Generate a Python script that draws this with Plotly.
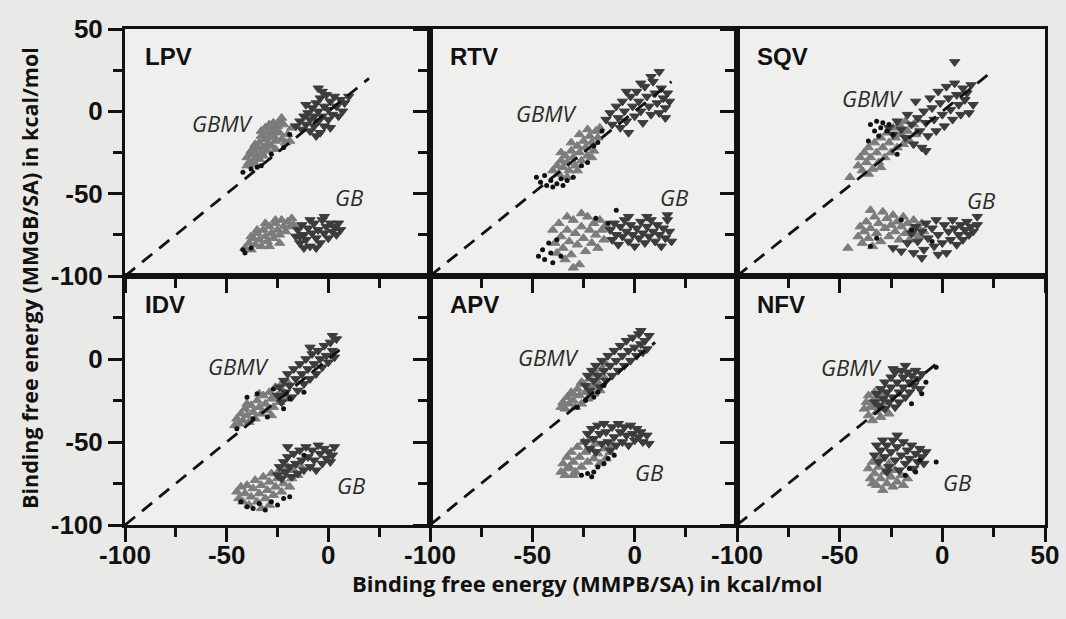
import plotly.graph_objects as go

# ---------------- data (kcal/mol) ----------------
panels = ["LPV", "RTV", "SQV", "IDV", "APV", "NFV"]
diag_end = [20, 18, 25, 8, 10, 0]   # upper end of the dashed y = x line

LPV_GBMV_light = [(-39,-31),(-37,-32),(-36,-29),(-40,-28),(-38,-26),(-35,-27),(-33,-25),(-37,-23),(-35,-22),(-32,-22),(-30,-20),(-34,-19),(-36,-20),(-31,-17),(-29,-16),(-33,-15),(-27,-15),(-30,-13),(-28,-11),(-26,-12),(-31,-10),(-25,-9),(-27,-7),(-24,-6),(-22,-8),(-29,-8),(-23,-4),(-33,-12),(-38,-24),(-30,-24),(-34,-29),(-26,-18),(-28,-21),(-32,-27),(-20,-14),(-18,-10),(-21,-19),(-23,-17),(-19,-18),(-24,-13),(-36,-32),(-40,-33),(-26,-23)]
LPV_GBMV_dark = [(-16,-9),(-14,-6),(-13,-11),(-12,-3),(-11,-8),(-10,-1),(-9,-5),(-9,-12),(-8,2),(-7,-3),(-7,-9),(-6,5),(-5,0),(-5,-6),(-4,-13),(-4,8),(-3,-3),(-2,3),(-2,-9),(-1,10),(0,1),(0,-5),(1,6),(2,-2),(3,9),(4,3),(5,-3),(6,7),(8,5),(10,9),(-5,14),(-3,12),(-11,4),(7,0),(-6,-15),(1,-10)]
LPV_GBMV_black = [(-42,-37),(-38,-35),(-35,-34),(-33,-33),(-22,-22),(-19,-14),(-28,-26)]
LPV_GB_light = [(-41,-83),(-39,-80),(-38,-84),(-37,-77),(-36,-81),(-35,-74),(-34,-78),(-33,-82),(-32,-72),(-31,-76),(-30,-79),(-29,-70),(-28,-74),(-27,-77),(-26,-68),(-25,-72),(-24,-75),(-23,-66),(-22,-70),(-21,-73),(-20,-67),(-19,-70),(-18,-65),(-17,-69),(-35,-72),(-29,-82),(-24,-80),(-31,-68),(-38,-76),(-26,-66)]
LPV_GB_dark = [(-16,-76),(-15,-72),(-14,-80),(-13,-69),(-12,-75),(-11,-78),(-10,-71),(-9,-82),(-8,-74),(-7,-68),(-6,-77),(-5,-72),(-4,-80),(-3,-66),(-2,-74),(-1,-70),(0,-77),(1,-68),(2,-73),(3,-70),(4,-75),(5,-68),(6,-72),(-9,-66),(-12,-83),(-6,-83),(-2,-64),(-14,-76)]
LPV_GB_black = [(-42,-84),(-41,-86),(-38,-83)]

RTV_GBMV_light = [(-40,-36),(-38,-33),(-37,-38),(-36,-30),(-35,-34),(-34,-27),(-33,-31),(-32,-36),(-31,-24),(-30,-28),(-29,-33),(-28,-21),(-27,-25),(-26,-30),(-25,-18),(-24,-22),(-23,-27),(-22,-15),(-21,-19),(-20,-24),(-19,-12),(-18,-16),(-17,-10),(-36,-25),(-31,-19),(-27,-14),(-23,-11),(-33,-40),(-28,-36),(-21,-28)]
RTV_GBMV_dark = [(-14,-5),(-12,-1),(-11,-8),(-9,3),(-8,-4),(-7,-10),(-6,6),(-5,0),(-4,-6),(-3,-13),(-2,9),(-1,3),(0,-3),(1,12),(2,6),(3,0),(4,-7),(5,15),(6,9),(7,3),(8,-2),(9,18),(10,11),(11,5),(12,-1),(13,14),(14,8),(15,2),(16,11),(12,24),(8,21),(3,17),(-4,12),(15,-4),(17,6)]
RTV_GBMV_black = [(-48,-40),(-46,-43),(-44,-39),(-43,-45),(-41,-42),(-40,-46),(-38,-44),(-36,-41),(-35,-45),(-33,-42),(-30,-40),(-26,-33),(-23,-31),(-20,-21),(-18,-19),(-16,-12)]
RTV_GB_light = [(-40,-72),(-39,-80),(-38,-86),(-37,-68),(-36,-76),(-35,-83),(-34,-90),(-33,-72),(-32,-79),(-31,-87),(-30,-66),(-29,-74),(-28,-81),(-27,-93),(-26,-70),(-25,-77),(-24,-85),(-23,-64),(-22,-72),(-21,-80),(-20,-68),(-19,-75),(-18,-83),(-17,-66),(-16,-72),(-15,-78),(-14,-69),(-30,-95),(-26,-62),(-33,-64)]
RTV_GB_dark = [(-12,-72),(-11,-78),(-10,-68),(-9,-75),(-8,-81),(-7,-70),(-6,-76),(-5,-66),(-4,-73),(-3,-79),(-2,-69),(-1,-75),(0,-82),(1,-71),(2,-77),(3,-67),(4,-74),(5,-80),(6,-70),(7,-76),(8,-66),(9,-73),(10,-79),(11,-69),(12,-75),(13,-82),(14,-71),(15,-77),(16,-66),(17,-73),(18,-79),(16,-63),(6,-64),(-3,-64)]
RTV_GB_black = [(-47,-88),(-45,-84),(-44,-90),(-42,-80),(-41,-86),(-40,-92),(-38,-78),(-36,-88),(-9,-60),(-19,-65),(-13,-68)]

SQV_GBMV_light = [(-41,-33),(-40,-28),(-39,-36),(-38,-25),(-37,-31),(-36,-22),(-35,-28),(-34,-35),(-33,-19),(-32,-25),(-31,-31),(-30,-16),(-29,-22),(-28,-28),(-27,-13),(-26,-19),(-25,-25),(-24,-10),(-23,-16),(-22,-22),(-21,-8),(-20,-14),(-19,-20),(-18,-6),(-17,-12),(-16,-18),(-14,-8),(-13,-14),(-12,-5),(-36,-38),(-30,-34),(-45,-40)]
SQV_GBMV_dark = [(-26,-10),(-24,-14),(-22,-6),(-20,-11),(-18,-16),(-17,-2),(-15,-8),(-14,-20),(-13,6),(-12,-4),(-11,-12),(-10,-22),(-9,0),(-8,-7),(-7,-15),(-6,8),(-5,2),(-4,-5),(-3,-12),(-2,12),(-1,5),(0,-2),(1,-9),(2,15),(3,8),(4,1),(5,-5),(6,17),(7,10),(8,4),(9,-2),(10,14),(11,7),(12,11),(14,16),(15,4),(6,30),(13,-1),(-8,-24)]
SQV_GBMV_black = [(-35,-8),(-32,-6),(-29,-7),(-33,-12),(-30,-10),(-27,-12),(-24,-14),(-31,-15),(-36,-18),(-26,-8),(-22,-26)]
SQV_GB_light = [(-41,-76),(-40,-70),(-39,-80),(-38,-73),(-37,-67),(-36,-77),(-35,-71),(-34,-82),(-33,-64),(-32,-74),(-31,-68),(-30,-79),(-29,-61),(-28,-71),(-27,-65),(-26,-76),(-25,-69),(-24,-63),(-23,-73),(-22,-67),(-21,-78),(-20,-70),(-19,-64),(-18,-74),(-17,-68),(-16,-78),(-15,-72),(-14,-66),(-13,-75),(-12,-70),(-11,-76),(-10,-68),(-9,-73),(-46,-83),(-35,-60)]
SQV_GB_dark = [(-17,-80),(-15,-74),(-14,-86),(-13,-70),(-12,-79),(-10,-73),(-9,-84),(-8,-68),(-7,-77),(-5,-71),(-4,-82),(-3,-66),(-2,-75),(0,-80),(1,-69),(2,-86),(3,-73),(4,-78),(5,-66),(6,-71),(7,-81),(8,-75),(9,-69),(10,-78),(11,-72),(12,-67),(13,-75),(14,-70),(15,-73),(17,-69),(-10,-89),(-2,-87),(17,-64),(-20,-85),(-24,-83)]
SQV_GB_black = [(-32,-77),(-35,-82),(-20,-66),(-15,-72),(-5,-79)]

IDV_GBMV_light = [(-46,-40),(-45,-36),(-44,-39),(-43,-33),(-42,-37),(-41,-30),(-40,-34),(-39,-38),(-38,-28),(-37,-32),(-36,-36),(-35,-25),(-34,-29),(-33,-33),(-32,-22),(-31,-27),(-30,-31),(-29,-20),(-28,-24),(-27,-29),(-26,-17),(-25,-22),(-24,-26),(-23,-15),(-22,-20),(-21,-24),(-20,-14),(-34,-21),(-28,-34),(-40,-27)]
IDV_GBMV_dark = [(-25,-22),(-24,-17),(-23,-26),(-22,-13),(-21,-20),(-20,-9),(-19,-16),(-18,-23),(-17,-6),(-16,-12),(-15,-19),(-14,-3),(-13,-9),(-12,-15),(-11,0),(-10,-6),(-9,-12),(-8,3),(-7,-3),(-6,-9),(-5,5),(-4,0),(-3,-5),(-2,8),(-1,2),(0,-2),(1,10),(2,5),(3,1),(-9,7),(4,12),(2,14)]
IDV_GBMV_black = [(-40,-23),(-22,-30),(-19,-24),(-37,-36),(-35,-21),(-45,-42),(-30,-35),(-27,-18),(-12,-20)]
IDV_GB_light = [(-45,-80),(-44,-84),(-43,-77),(-42,-86),(-41,-81),(-40,-76),(-39,-88),(-38,-83),(-37,-78),(-36,-73),(-35,-86),(-34,-81),(-33,-76),(-32,-71),(-31,-84),(-30,-79),(-29,-74),(-28,-69),(-27,-82),(-26,-77),(-25,-72),(-24,-67),(-23,-80),(-22,-75),(-21,-70),(-20,-65),(-19,-77),(-18,-72),(-17,-67),(-15,-70),(-14,-64),(-33,-90),(-29,-88)]
IDV_GB_dark = [(-25,-70),(-24,-65),(-23,-72),(-22,-62),(-21,-68),(-20,-59),(-19,-65),(-18,-71),(-17,-57),(-16,-63),(-15,-69),(-14,-55),(-13,-61),(-12,-67),(-11,-53),(-10,-59),(-9,-65),(-8,-55),(-7,-61),(-6,-67),(-5,-52),(-4,-57),(-3,-63),(-2,-54),(-1,-60),(0,-56),(1,-62),(2,-58),(3,-53),(-20,-53)]
IDV_GB_black = [(-43,-86),(-40,-89),(-37,-90),(-34,-87),(-31,-91),(-28,-86),(-25,-88),(-22,-84),(-19,-83),(-12,-58)]

APV_GBMV_light = [(-36,-29),(-35,-26),(-34,-30),(-33,-23),(-32,-27),(-31,-20),(-30,-25),(-29,-29),(-28,-18),(-27,-22),(-26,-27),(-25,-15),(-24,-20),(-23,-24),(-22,-12),(-21,-17),(-20,-21),(-19,-9),(-18,-14),(-17,-19),(-16,-6),(-15,-11),(-14,-3),(-30,-21),(-26,-14)]
APV_GBMV_dark = [(-24,-16),(-23,-10),(-22,-19),(-21,-7),(-20,-13),(-19,-4),(-18,-10),(-17,-17),(-16,-1),(-15,-7),(-14,-13),(-13,2),(-12,-4),(-11,-10),(-10,5),(-9,-1),(-8,-7),(-7,8),(-6,2),(-5,-4),(-4,11),(-3,5),(-2,-1),(-1,13),(0,7),(1,2),(2,15),(3,9),(4,4),(5,11),(6,6),(7,14),(3,17)]
APV_GBMV_black = [(-24,-25),(-20,-23),(-18,-20),(-28,-29),(-15,-16)]
APV_GB_light = [(-36,-68),(-35,-63),(-34,-70),(-33,-59),(-32,-65),(-31,-56),(-30,-62),(-29,-68),(-28,-53),(-27,-59),(-26,-65),(-25,-50),(-24,-56),(-23,-62),(-22,-49),(-21,-54),(-20,-60),(-19,-51),(-18,-57),(-17,-63),(-15,-54),(-14,-60),(-12,-56),(-11,-52),(-33,-66),(-30,-70)]
APV_GB_dark = [(-24,-50),(-23,-45),(-22,-54),(-21,-42),(-20,-48),(-19,-56),(-18,-40),(-17,-45),(-16,-51),(-15,-39),(-14,-44),(-13,-50),(-12,-55),(-11,-41),(-10,-47),(-9,-52),(-8,-39),(-7,-44),(-6,-50),(-5,-41),(-4,-46),(-3,-52),(-2,-40),(-1,-45),(0,-49),(1,-42),(2,-47),(3,-44),(4,-50),(6,-46),(7,-51)]
APV_GB_black = [(-26,-70),(-23,-69),(-20,-68),(-18,-65),(-15,-63),(-13,-60),(-10,-58),(-21,-71)]

NFV_GBMV_light = [(-38,-30),(-37,-26),(-36,-34),(-35,-29),(-34,-37),(-33,-24),(-32,-32),(-31,-28),(-30,-35),(-29,-22),(-28,-30),(-27,-26),(-26,-33),(-33,-20),(-36,-22)]
NFV_GBMV_dark = [(-33,-26),(-32,-21),(-31,-28),(-30,-18),(-29,-24),(-28,-30),(-28,-14),(-27,-20),(-26,-26),(-25,-11),(-25,-17),(-24,-23),(-23,-8),(-23,-29),(-22,-14),(-21,-20),(-21,-26),(-20,-7),(-19,-11),(-19,-17),(-18,-23),(-17,-8),(-16,-14),(-16,-20),(-15,-10),(-14,-16),(-13,-7),(-12,-12),(-11,-18),(-10,-9),(-24,-6),(-18,-4)]
NFV_GBMV_black = [(-3,-5),(-10,-21),(-15,-27),(-8,-14)]
NFV_GB_light = [(-36,-66),(-35,-72),(-34,-62),(-33,-69),(-32,-76),(-31,-65),(-30,-72),(-29,-79),(-28,-68),(-27,-75),(-26,-63),(-25,-71),(-24,-77),(-23,-67),(-22,-74),(-20,-70),(-19,-76),(-17,-72),(-30,-60),(-34,-75)]
NFV_GB_dark = [(-33,-58),(-32,-52),(-31,-62),(-30,-55),(-29,-49),(-28,-59),(-27,-52),(-26,-65),(-25,-56),(-24,-49),(-23,-61),(-22,-53),(-21,-67),(-20,-58),(-19,-50),(-18,-63),(-17,-55),(-16,-60),(-15,-52),(-14,-66),(-13,-57),(-12,-62),(-11,-54),(-10,-59),(-9,-63),(-8,-56),(-27,-68),(-22,-46)]
NFV_GB_black = [(-11,-61),(-3,-62),(-16,-66),(-13,-68),(-18,-70)]

# text label positions (data coords) per panel: GBMV label, GB label
GBMV_label_pos = [(-52, -7), (-43, -1), (-34, 8), (-44, -4), (-42, 1), (-44, -5)]
GB_label_pos = [(10, -52), (19, -52), (19, -54), (11, -76), (7, -68), (7, -74)]

data = {
    "LPV": [LPV_GBMV_light, LPV_GBMV_dark, LPV_GBMV_black, LPV_GB_light, LPV_GB_dark, LPV_GB_black],
    "RTV": [RTV_GBMV_light, RTV_GBMV_dark, RTV_GBMV_black, RTV_GB_light, RTV_GB_dark, RTV_GB_black],
    "SQV": [SQV_GBMV_light, SQV_GBMV_dark, SQV_GBMV_black, SQV_GB_light, SQV_GB_dark, SQV_GB_black],
    "IDV": [IDV_GBMV_light, IDV_GBMV_dark, IDV_GBMV_black, IDV_GB_light, IDV_GB_dark, IDV_GB_black],
    "APV": [APV_GBMV_light, APV_GBMV_dark, APV_GBMV_black, APV_GB_light, APV_GB_dark, APV_GB_black],
    "NFV": [NFV_GBMV_light, NFV_GBMV_dark, NFV_GBMV_black, NFV_GB_light, NFV_GB_dark, NFV_GB_black],
}

# ---------------- styling ----------------
W, H = 1066, 619
PAPER = "#e9e9e7"
PLOT = "#efefed"
styles = [
    dict(symbol="triangle-up", color="#7c7c7c", size=9),
    dict(symbol="triangle-down", color="#3c3c3c", size=9),
    dict(symbol="circle", color="#111111", size=5),
]
TICKFONT = dict(family="Liberation Sans", size=26, color="#111", weight="bold")

col_px = [(125, 430), (430, 737), (737, 1045)]
row_px = [(29, 276), (276, 525)]

fig = go.Figure()
layout = dict(
    template="none",
    width=W, height=H, autosize=False, margin=dict(l=0, r=0, t=0, b=0, pad=0),
    paper_bgcolor=PAPER, plot_bgcolor=PLOT, showlegend=False,
)
annotations = []

for i, name in enumerate(panels):
    r, c = divmod(i, 3)
    k = "" if i == 0 else str(i + 1)
    xa, ya = "x" + k, "y" + k
    for j, series in enumerate(data[name]):
        st = styles[j % 3]
        fig.add_trace(go.Scatter(
            x=[p[0] for p in series], y=[p[1] for p in series],
            mode="markers", xaxis=xa, yaxis=ya,
            marker=dict(symbol=st["symbol"], color=st["color"], size=st["size"],
                        line=dict(width=1 if j % 3 != 2 else 0, color=st["color"])),
            hoverinfo="skip",
        ))
    fig.add_trace(go.Scatter(
        x=[-100, diag_end[i]], y=[-100, diag_end[i]], mode="lines",
        xaxis=xa, yaxis=ya, line=dict(color="#111", width=2.8, dash="13px,9px"),
        hoverinfo="skip",
    ))
    x0, x1 = col_px[c]
    y0, y1 = row_px[r]
    bottom = r == 1
    left = c == 0
    xt = [-100, -50, 0, 50] if c == 2 else [-100, -50, 0]
    yt = [-100, -50, 0, 50] if r == 0 else [-100, -50, 0]
    common = dict(
        range=[-100, 50], showline=True, linecolor="#111", linewidth=3, mirror=True,
        ticks="outside", ticklen=14, tickwidth=3, tickcolor="#111",
        tickmode="array", tickfont=TICKFONT, automargin=False,
        minor=dict(tickmode="array", tickvals=[-75, -25, 25], ticks="outside",
                   ticklen=9, tickwidth=3, tickcolor="#111"),
        showgrid=False, zeroline=False, fixedrange=True,
    )
    layout["xaxis" + k] = dict(
        domain=[x0 / W, x1 / W], anchor=ya, ticklabelstandoff=-9,
        tickvals=xt, ticktext=[str(v) for v in xt], showticklabels=bottom, **common,
    )
    layout["yaxis" + k] = dict(
        domain=[1 - y1 / H, 1 - y0 / H], anchor=xa,
        tickvals=yt, ticktext=[str(v) for v in yt], showticklabels=left, **common,
    )
    annotations.append(dict(
        x=-91, y=33, xref=xa, yref=ya, text=name, showarrow=False,
        xanchor="left", yanchor="middle",
        font=dict(family="Liberation Sans", size=24, color="#111", weight="bold"),
    ))
    gx, gy = GBMV_label_pos[i]
    annotations.append(dict(
        x=gx, y=gy, xref=xa, yref=ya, text="GBMV", showarrow=False,
        xanchor="center", yanchor="middle",
        font=dict(family="Open Sans", size=22, color="#2a2a2a", style="italic"),
    ))
    bx, by = GB_label_pos[i]
    annotations.append(dict(
        x=bx, y=by, xref=xa, yref=ya, text="GB", showarrow=False,
        xanchor="center", yanchor="middle",
        font=dict(family="Open Sans", size=22, color="#2a2a2a", style="italic"),
    ))

annotations.append(dict(
    x=587 / W, y=1 - 583 / H, xref="paper", yref="paper",
    text="Binding free energy (MMPB/SA) in kcal/mol", showarrow=False,
    xanchor="center", yanchor="middle",
    font=dict(family="Open Sans", size=22, color="#111", weight="bold"),
))
annotations.append(dict(
    x=29 / W, y=1 - 278 / H, xref="paper", yref="paper",
    text="Binding free energy (MMGB/SA) in kcal/mol", showarrow=False,
    textangle=-90, xanchor="center", yanchor="middle",
    font=dict(family="Open Sans", size=21.5, color="#111", weight="bold"),
))

layout["annotations"] = annotations
fig.update_layout(**layout)
fig.write_html(
    "out.html",
    config={"responsive": False, "displayModeBar": False},
    post_script="document.body.style.margin='0';document.body.style.overflow='hidden';",
)
